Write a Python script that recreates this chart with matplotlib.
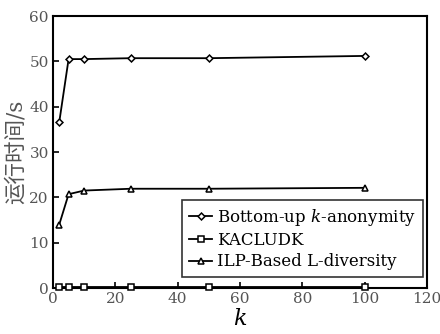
import matplotlib
matplotlib.use('Agg')
import matplotlib.pyplot as plt

# Settings
plt.rcParams['font.family'] = ['DejaVu Serif', 'Noto Sans CJK SC']
plt.rcParams['mathtext.fontset'] = 'dejavuserif'

kValues = [2, 5, 10, 25, 50, 100]
bottomUp = [36.6, 50.5, 50.5, 50.7, 50.7, 51.2]
kacludk = [0.2, 0.2, 0.2, 0.2, 0.2, 0.2]
ilpBased = [14.0, 20.7, 21.5, 21.9, 21.9, 22.1]

seriesNames = ['Bottom-up $k$-anonymity', 'KACLUDK', 'ILP-Based L-diversity']
seriesMarkers = ['D', 's', '^']
xTicks = [0, 20, 40, 60, 80, 100, 120]
yTicks = [0, 10, 20, 30, 40, 50, 60]

fig = plt.figure(figsize=(4.4, 3.34), dpi=100)
ax = fig.add_axes([0.1205, 0.1377, 0.8495, 0.8143])

sizes = {'D': 3.5, 's': 4.5, '^': 5}
for values, name, marker in zip([bottomUp, kacludk, ilpBased], seriesNames, seriesMarkers):
    ax.plot(kValues, values, color='black', linewidth=1.3, marker=marker,
            markersize=sizes[marker], markerfacecolor='white', markeredgecolor='black',
            markeredgewidth=1.1, label=name, clip_on=False, zorder=3)

ax.set_xlim(0, 120)
ax.set_ylim(0, 60)
ax.set_xticks(xTicks)
ax.set_yticks(yTicks)
ax.tick_params(direction='in', length=4, width=1.2, labelsize=11, colors='black',
               labelcolor='#555555', pad=3)
for spine in ax.spines.values():
    spine.set_linewidth(1.5)

ax.set_xlabel('$k$', fontsize=16, labelpad=1)
ax.set_ylabel('运行时间/s', fontsize=15.5, color='#555555', labelpad=2)

leg = ax.legend(loc='lower right', bbox_to_anchor=(0.99, 0.04), fontsize=12,
                frameon=True, fancybox=False, edgecolor='black', handlelength=1.4,
                handletextpad=0.3, borderpad=0.4, labelspacing=0.25, borderaxespad=0)
leg.get_frame().set_linewidth(1.2)

plt.savefig('out.png', dpi=100)
